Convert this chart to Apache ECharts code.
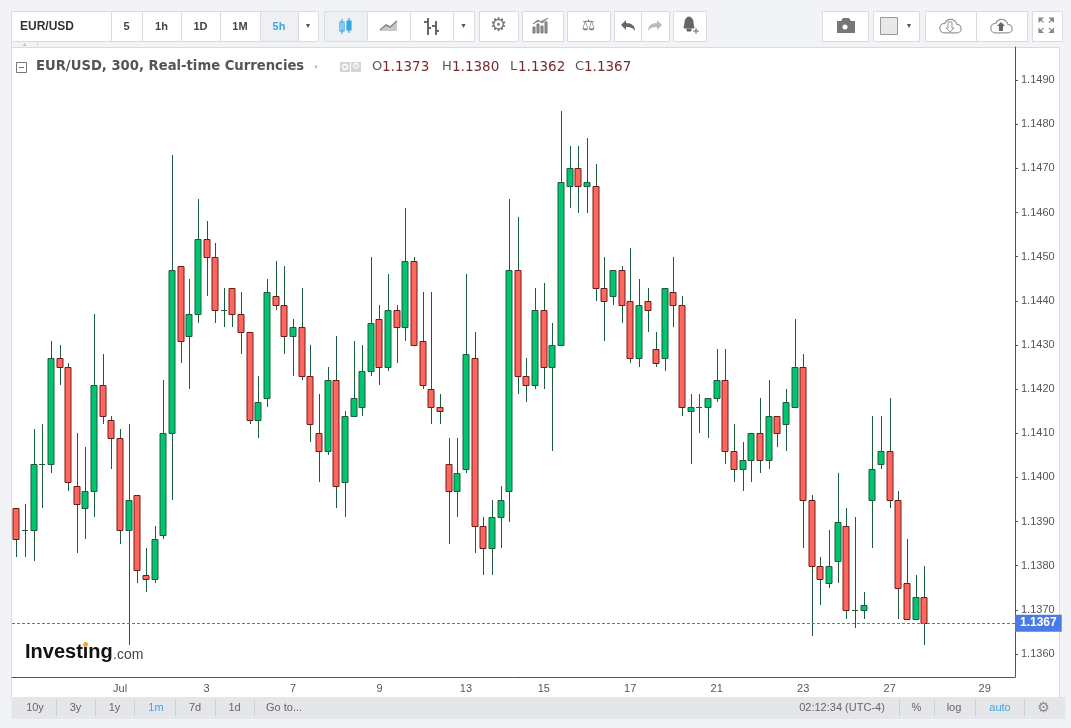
<!DOCTYPE html>
<html>
<head>
<meta charset="utf-8">
<title>EUR/USD 5h</title>
<script src="https://cdn.jsdelivr.net/npm/echarts@6/dist/echarts.min.js"></script>
<style>
  html, body { margin: 0; padding: 0; background: #f2f3f7; }
  #chart { width: 1071px; height: 728px; }
</style>
</head>
<body>
<div id="chart"></div>
<script>
// candles, oldest first
var opens = [
  1.1393, 1.1388, 1.1388, 1.1403, 1.1403, 1.1427, 1.1425, 1.1398, 1.1393, 1.1397,
  1.1421, 1.1413, 1.1409, 1.1388, 1.1396, 1.1378, 1.1377, 1.1387, 1.1410, 1.1448,
  1.1432, 1.1437, 1.1454, 1.1450, 1.1438, 1.1443, 1.1437, 1.1433, 1.1413, 1.1418,
  1.1441, 1.1439, 1.1432, 1.1434, 1.1423, 1.1410, 1.1406, 1.1422, 1.1399, 1.1414,
  1.1416, 1.1424, 1.1436, 1.1425, 1.1438, 1.1434, 1.1449, 1.1431, 1.1420, 1.1416,
  1.1403, 1.1397, 1.1402, 1.1427, 1.1389, 1.1384, 1.1391, 1.1397, 1.1447, 1.1423,
  1.1421, 1.1438, 1.1425, 1.1430, 1.1466, 1.1470, 1.1466, 1.1466, 1.1443, 1.1441,
  1.1447, 1.1440, 1.1427, 1.1440, 1.1429, 1.1427, 1.1442, 1.1439, 1.1415, 1.1416,
  1.1416, 1.1418, 1.1422, 1.1406, 1.1402, 1.1404, 1.1410, 1.1404, 1.1414, 1.1412,
  1.1416, 1.1425, 1.1395, 1.1380, 1.1376, 1.1381, 1.1389, 1.1370, 1.1370, 1.1395,
  1.1403, 1.1406, 1.1395, 1.1376, 1.1368, 1.1373
];
var highs = [
  1.1393, 1.1394, 1.1411, 1.1412, 1.1431, 1.1430, 1.1426, 1.1410, 1.1407, 1.1437,
  1.1428, 1.1414, 1.1411, 1.1412, 1.1396, 1.1384, 1.1389, 1.1422, 1.1473, 1.1448,
  1.1445, 1.1463, 1.1458, 1.1453, 1.1443, 1.1443, 1.1442, 1.1433, 1.1423, 1.1445,
  1.1449, 1.1448, 1.1436, 1.1443, 1.1430, 1.1419, 1.1425, 1.1432, 1.1415, 1.1431,
  1.1430, 1.1450, 1.1439, 1.1446, 1.1439, 1.1461, 1.1450, 1.1442, 1.1442, 1.1419,
  1.1409, 1.1409, 1.1446, 1.1433, 1.1391, 1.1395, 1.1398, 1.1463, 1.1459, 1.1427,
  1.1443, 1.1444, 1.1435, 1.1483, 1.1475, 1.1475, 1.1477, 1.1471, 1.1450, 1.1447,
  1.1448, 1.1452, 1.1445, 1.1443, 1.1433, 1.1443, 1.1450, 1.1441, 1.1419, 1.1419,
  1.1418, 1.1429, 1.1429, 1.1412, 1.1408, 1.1410, 1.1418, 1.1422, 1.1414, 1.1420,
  1.1436, 1.1428, 1.1396, 1.1382, 1.1388, 1.1401, 1.1393, 1.1391, 1.1374, 1.1414,
  1.1414, 1.1418, 1.1397, 1.1386, 1.1378, 1.1380
];
var lows = [
  1.1382, 1.1382, 1.1381, 1.1393, 1.1401, 1.1421, 1.1397, 1.1383, 1.1386, 1.1391,
  1.1412, 1.1402, 1.1385, 1.1362, 1.1376, 1.1374, 1.1376, 1.1386, 1.1395, 1.1426,
  1.1420, 1.1435, 1.1441, 1.1435, 1.1434, 1.1434, 1.1428, 1.1412, 1.1409, 1.1416,
  1.1438, 1.1428, 1.1423, 1.1422, 1.1408, 1.1399, 1.1405, 1.1393, 1.1391, 1.1414,
  1.1414, 1.1423, 1.1421, 1.1424, 1.1426, 1.1431, 1.1430, 1.1420, 1.1412, 1.1412,
  1.1385, 1.1391, 1.1401, 1.1383, 1.1378, 1.1378, 1.1384, 1.1390, 1.1419, 1.1417,
  1.1420, 1.1420, 1.1406, 1.1430, 1.1461, 1.1460, 1.1460, 1.1440, 1.1431, 1.1439,
  1.1435, 1.1426, 1.1425, 1.1433, 1.1425, 1.1424, 1.1434, 1.1414, 1.1403, 1.1410,
  1.1409, 1.1417, 1.1403, 1.1399, 1.1397, 1.1399, 1.1401, 1.1402, 1.1407, 1.1406,
  1.1416, 1.1384, 1.1364, 1.1371, 1.1375, 1.1376, 1.1368, 1.1366, 1.1368, 1.1384,
  1.1402, 1.1393, 1.1368, 1.1368, 1.1368, 1.1362
];
var closes = [
  1.1386, 1.1388, 1.1403, 1.1403, 1.1427, 1.1425, 1.1399, 1.1394, 1.1397, 1.1421,
  1.1414, 1.1409, 1.1388, 1.1395, 1.1379, 1.1377, 1.1386, 1.1410, 1.1447, 1.1431,
  1.1437, 1.1454, 1.1450, 1.1438, 1.1438, 1.1437, 1.1433, 1.1413, 1.1417, 1.1442,
  1.1439, 1.1432, 1.1434, 1.1423, 1.1412, 1.1406, 1.1422, 1.1398, 1.1414, 1.1418,
  1.1424, 1.1435, 1.1425, 1.1438, 1.1434, 1.1449, 1.1430, 1.1421, 1.1416, 1.1415,
  1.1397, 1.1401, 1.1428, 1.1389, 1.1384, 1.1391, 1.1395, 1.1447, 1.1423, 1.1421,
  1.1438, 1.1425, 1.1430, 1.1467, 1.1470, 1.1466, 1.1467, 1.1443, 1.1440, 1.1447,
  1.1439, 1.1427, 1.1439, 1.1438, 1.1426, 1.1443, 1.1439, 1.1416, 1.1416, 1.1416,
  1.1418, 1.1422, 1.1406, 1.1402, 1.1404, 1.1410, 1.1404, 1.1414, 1.1410, 1.1417,
  1.1425, 1.1395, 1.1380, 1.1377, 1.1380, 1.1390, 1.1370, 1.1370, 1.1371, 1.1402,
  1.1406, 1.1395, 1.1375, 1.1368, 1.1373, 1.1367
];

// time axis: 116 slots (the last ones are still empty), labels on a few of them
var slotCount = 116;
var tickSlots = [12, 22, 32, 42, 52, 61, 71, 81, 91, 101, 112];
var tickTexts = ['Jul', '3', '7', '9', '13', '15', '17', '21', '23', '27', '29'];
var lastPrice = 1.1367;
var priceMin = 1.13548, priceMax = 1.14975;

var categories = [];
for (var i = 0; i < slotCount; i++) {
  var k = tickSlots.indexOf(i);
  categories.push(k >= 0 ? tickTexts[k] : String(i));
}
var ohlc = opens.map(function (o, i) {
  return [i, o, closes[i], lows[i], highs[i]];
});
var lastIdx = opens.length - 1;

var UP = '#00c570', DOWN = '#ff675c', WICK = '#1e5b3c', DOWN_EDGE = '#6e1d1d';

function renderCandle(params, api) {
  var idx = api.value(0);
  var pO = api.coord([idx, api.value(1)]);
  var pC = api.coord([idx, api.value(2)]);
  var pL = api.coord([idx, api.value(3)]);
  var pH = api.coord([idx, api.value(4)]);
  var w = Math.round(api.size([1, 0])[0] * 0.72);
  var up = api.value(2) >= api.value(1);
  var cx = Math.round(pO[0]) + 0.5;
  var top = Math.round(Math.min(pO[1], pC[1])) + 0.5;
  var bot = Math.round(Math.max(pO[1], pC[1])) + 0.5;
  return {
    type: 'group',
    children: [{
      type: 'line',
      shape: { x1: cx, y1: Math.round(pH[1]), x2: cx, y2: Math.round(pL[1]) },
      style: { stroke: WICK, lineWidth: 1 }
    }, {
      type: 'rect',
      shape: { x: cx - Math.floor(w / 2) - 0.5, y: top, width: w, height: bot - top },
      style: { fill: up ? UP : DOWN, stroke: up ? WICK : DOWN_EDGE, lineWidth: 1 }
    }]
  };
}

// ---- toolbar / frame drawing helpers ----
var FONT = 'Liberation Sans';
var els = [];
function box(x0, x1, opt) {
  opt = opt || {};
  els.push({
    type: 'rect', z: 10,
    shape: { x: x0 + 0.5, y: 11.5, width: x1 - x0, height: 30 },
    style: { fill: opt.fill || '#fff', stroke: '#d9dbe1', lineWidth: 1 }
  });
}
function label(x, y, text, opt) {
  opt = opt || {};
  els.push({
    type: 'text', z: 11, x: x, y: y,
    style: {
      text: text,
      fill: opt.color || '#444',
      font: (opt.weight || 'normal') + ' ' + (opt.size || 11) + 'px "' + (opt.family || FONT) + '"',
      align: opt.align || 'center',
      verticalAlign: 'middle'
    }
  });
}
var iconCount = 0;
function icon(path, x, y, s, opt) {
  opt = opt || {};
  var name = 'tbIcon' + (iconCount++);
  echarts.graphic.registerShape(name, echarts.graphic.extendPath(path, {}));
  els.push({
    type: name, z: 11, x: x, y: y, scaleX: s, scaleY: s,
    style: { fill: opt.fill || 'none', stroke: opt.stroke || 'none', lineWidth: opt.lw || 1 }
  });
}

// chart panel and bottom strip
els.push({ type: 'rect', z: -10, shape: { x: 11.5, y: 47.5, width: 1048, height: 650 },
  style: { fill: '#fff', stroke: '#d9dbe1', lineWidth: 1 } });
els.push({ type: 'rect', z: -9, shape: { x: 11.5, y: 697, width: 1054, height: 22 },
  style: { fill: '#e5e6ea' } });
els.push({ type: 'rect', z: 10, shape: { x: 11.5, y: 41.5, width: 26, height: 6 },
  style: { fill: '#f2f3f7', stroke: '#d9dbe1', lineWidth: 1 } });
label(24.5, 44.5, '▲', { size: 5, color: '#bbb' });

// toolbar group 1
box(11, 111); label(20, 26.5, 'EUR/USD', { weight: 'bold', size: 12, color: '#333', align: 'left' });
box(111, 142); label(126.5, 26.5, '5', { weight: 'bold' });
box(142, 181); label(161.5, 26.5, '1h', { weight: 'bold' });
box(181, 220); label(200.5, 26.5, '1D', { weight: 'bold' });
box(220, 260); label(240, 26.5, '1M', { weight: 'bold' });
box(260, 298, { fill: '#eff0f3' }); label(279, 26.5, '5h', { weight: 'bold', color: '#3aa6e0' });
box(298, 318); label(308, 26.5, '▼', { size: 7, color: '#555' });
// toolbar group 2
box(324, 367, { fill: '#eff0f3' });
icon('M2 4h4v9h-4z M4 1v15', 338, 18, 1, { stroke: '#3aa6e0', fill: '#fff', lw: 1.2 });
icon('M9 3h4v9h-4z M11 0v15', 338, 18, 1, { stroke: '#3aa6e0', fill: '#3aa6e0', lw: 1.2 });
box(367, 410);
icon('M0 10 L6 5 L10 7 L17 1 L17 11 L0 11 Z', 380, 20, 1, { fill: '#c9c9c9' });
icon('M0 10 L6 5 L10 7 L17 1', 380, 20, 1, { stroke: '#888', lw: 1.5 });
box(410, 453);
icon('M5 0v17 M1 4h4 M5 10h3 M13 3v14 M9 8h4 M13 13h3', 423, 18, 1, { stroke: '#666', lw: 2 });
box(453, 474); label(463.5, 26.5, '▼', { size: 7, color: '#555' });
box(479, 518); label(498.5, 26.5, '⚙', { size: 19, color: '#777', family: 'DejaVu Sans' });
box(522, 563);
icon('M0 16V10h2v6z M4 16V7h2v9z M8 16V9h2v7z M12 16V5h2v11z M0 7 L5 3 L9 6 L15 1',
  533, 17, 1, { stroke: '#777', fill: '#999', lw: 1 });
box(567, 610); label(588.5, 26.5, '⚖', { size: 15, color: '#777', family: 'DejaVu Sans' });
box(614, 641); icon('M1 5 L6 0 L6 3 C12 3 15 6 15 11 C13 8 11 7 6 7 L6 10 Z', 620, 20, 1, { fill: '#666' });
box(641, 669); icon('M15 5 L10 0 L10 3 C4 3 1 6 1 11 C3 8 5 7 10 7 L10 10 Z', 647, 20, 1, { fill: '#bbb' });
box(673, 706);
icon('M3 12 C3 10 4 9 4 6 C4 3 6 1 8 1 C10 1 12 3 12 6 C12 9 13 10 13 12 Z M6 13 h4 v2 h-4z M12 15 h6 M15 12 v6',
  681, 16, 1, { fill: '#666', stroke: '#666', lw: 1 });
// toolbar right side
box(822, 868);
icon('M1 4 h4 l2 -3 h6 l2 3 h4 v12 h-18 z', 836, 17, 1, { fill: '#777' });
els.push({ type: 'circle', z: 12, shape: { cx: 845, cy: 27, r: 3.5 }, style: { fill: '#fff', stroke: '#777', lineWidth: 2 } });
box(873, 919);
els.push({ type: 'rect', z: 11, shape: { x: 880.5, y: 17.5, width: 17, height: 17 }, style: { fill: '#e8e8e8', stroke: '#999', lineWidth: 1 } });
label(909, 26.5, '▼', { size: 7, color: '#555' });
var CLOUD = 'M6 17 h12 a4 4 0 0 0 0 -8 a6 6 0 0 0 -11.5 -1 a4.5 4.5 0 0 0 -0.5 9 z';
box(925, 976);
icon(CLOUD, 938, 15, 1.05, { stroke: '#999', fill: '#fff', lw: 1.2 });
icon('M10 8 v6 h-2 l4 4 l4 -4 h-2 v-6 z', 938, 14, 1, { stroke: '#999', fill: '#fff', lw: 1 });
box(976, 1027);
icon(CLOUD, 989, 15, 1.05, { stroke: '#999', fill: '#fff', lw: 1.2 });
icon('M12 8 l-4 4 h2 v5 h4 v-5 h2 z', 989, 14, 1, { fill: '#666' });
box(1032, 1062);
icon('M0 0h4l-4 4z M16 0h-4l4 4z M0 16h4l-4 -4z M16 16h-4l4 -4z M1 1l4 4 M15 1l-4 4 M1 15l4 -4 M15 15l-4 -4',
  1039, 18, 0.9, { fill: '#888', stroke: '#888', lw: 1.3 });

// legend line
els.push({ type: 'rect', z: 11, shape: { x: 16.5, y: 62.5, width: 10, height: 10 }, style: { fill: '#fff', stroke: '#777', lineWidth: 1 } });
els.push({ type: 'line', z: 11, shape: { x1: 19, y1: 67.5, x2: 24, y2: 67.5 }, style: { stroke: '#777', lineWidth: 1 } });
label(36, 67, 'EUR/USD, 300, Real-time Currencies', { size: 13.2, weight: 'bold', color: '#555', align: 'left', family: 'DejaVu Sans' });
label(316, 67, '▼', { size: 6, color: '#bbb' });
els.push({ type: 'rect', z: 11, shape: { x: 340, y: 62, width: 10, height: 10 }, style: { fill: '#d4d4d4' } });
els.push({ type: 'circle', z: 12, shape: { cx: 345, cy: 67, r: 2.5 }, style: { fill: '#d4d4d4', stroke: '#fff', lineWidth: 1.3 } });
els.push({ type: 'rect', z: 11, shape: { x: 351, y: 62, width: 10, height: 10 }, style: { fill: '#d4d4d4' } });
label(356, 67, '⚙', { size: 9, color: '#fff', family: 'DejaVu Sans' });
var ohlcText = [['O', opens[lastIdx], 372, 382], ['H', highs[lastIdx], 442, 452],
                ['L', lows[lastIdx], 510, 518], ['C', closes[lastIdx], 575, 584]];
ohlcText.forEach(function (t) {
  label(t[2], 67, t[0], { size: 13, color: '#555', align: 'left', family: 'DejaVu Sans' });
  label(t[3], 67, t[1].toFixed(4), { size: 13.5, color: '#7a2b2b', align: 'left', family: 'DejaVu Sans' });
});

// watermark logo
label(25, 652, 'Investing', { size: 20, weight: 'bold', color: '#111', align: 'left' });
label(113, 655, '.com', { size: 14, color: '#444', align: 'left' });
els.push({ type: 'circle', z: 12, shape: { cx: 85.6, cy: 644.5, r: 2.4 }, style: { fill: '#f5a623' } });

// bottom bar
var leftItems = [['10y', 35], ['3y', 75.5], ['1y', 114.5], ['1m', 156], ['7d', 195], ['1d', 234.5]];
leftItems.forEach(function (t) {
  label(t[1], 708, t[0], { size: 11, color: t[0] === '1m' ? '#3aa6e0' : '#666' });
});
label(266, 708, 'Go to...', { size: 11, color: '#666', align: 'left' });
[56, 95, 134, 175, 215, 254, 899, 934, 975, 1024].forEach(function (x) {
  els.push({ type: 'line', z: 11, shape: { x1: x + 0.5, y1: 700, x2: x + 0.5, y2: 716 }, style: { stroke: '#cfd0d4', lineWidth: 1 } });
});
label(842, 708, '02:12:34 (UTC-4)', { size: 11, color: '#666' });
label(916.5, 708, '%', { size: 11, color: '#666' });
label(954, 708, 'log', { size: 11, color: '#666' });
label(1000, 708, 'auto', { size: 11, color: '#3aa6e0' });
label(1043.5, 708, '⚙', { size: 14, color: '#888', family: 'DejaVu Sans' });

var chart = echarts.init(document.getElementById('chart'));
chart.setOption({
  backgroundColor: '#f2f3f7',
  animation: false,
  grid: { left: 12, right: 56, top: 47, bottom: 51 },
  xAxis: {
    type: 'category',
    data: categories,
    boundaryGap: true,
    axisLine: { lineStyle: { color: '#555', width: 1 } },
    axisTick: {
      alignWithLabel: true, length: 4,
      interval: function (i) { return tickSlots.indexOf(i) >= 0; },
      lineStyle: { color: '#555' }
    },
    axisLabel: {
      interval: function (i) { return tickSlots.indexOf(i) >= 0; },
      color: '#555', fontSize: 11, fontFamily: FONT, margin: 6
    },
    splitLine: { show: false }
  },
  yAxis: {
    type: 'value',
    position: 'right',
    min: priceMin,
    max: priceMax,
    splitNumber: 14,
    axisLine: { show: true, lineStyle: { color: '#555', width: 1 } },
    axisTick: { show: true, length: 3, lineStyle: { color: '#555' } },
    axisLabel: {
      color: '#555', fontSize: 11, fontFamily: FONT, margin: 6,
      showMinLabel: false, showMaxLabel: false,
      formatter: function (v) { return v.toFixed(4); }
    },
    splitLine: { show: false }
  },
  series: [{
    type: 'custom',
    renderItem: renderCandle,
    encode: { x: 0, y: [1, 2, 3, 4] },
    data: ohlc,
    clip: true
  }, {
    // carrier for the last-price line and its axis tag
    type: 'line',
    data: [[lastIdx, lastPrice]],
    showSymbol: false,
    symbol: 'none',
    lineStyle: { opacity: 0 },
    silent: true,
    z: 5,
    markLine: {
      silent: true,
      symbol: 'none',
      precision: 4,
      animation: false,
      lineStyle: { color: '#5572d6', type: [3, 2], width: 1 },
      label: {
        position: 'end',
        distance: 0,
        formatter: lastPrice.toFixed(4),
        backgroundColor: '#4a7be3',
        color: '#fff',
        fontWeight: 'bold',
        fontSize: 12,
        fontFamily: FONT,
        padding: [3, 5, 2, 5]
      },
      data: [{ yAxis: lastPrice }]
    }
  }],
  graphic: { elements: els }
});
</script>
</body>
</html>
